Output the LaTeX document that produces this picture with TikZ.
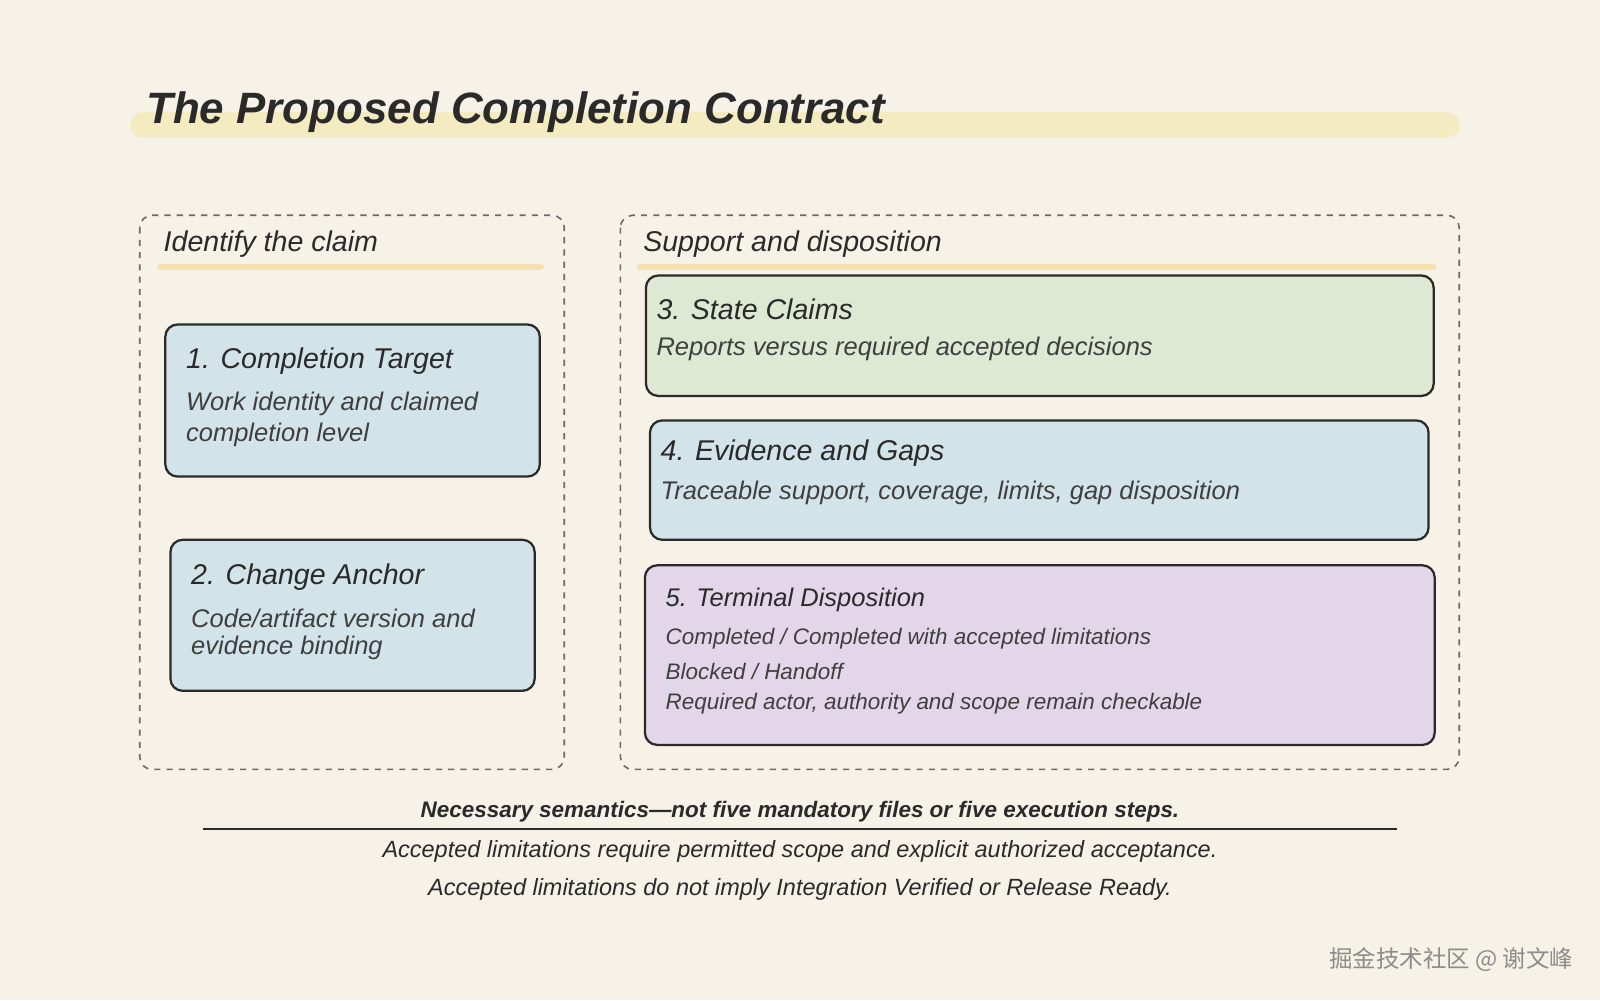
\documentclass[tikz,border=0pt]{standalone}
\usepackage{fontspec}
\setmainfont{Liberation Sans}
\newfontfamily\cjk{Noto Sans CJK SC}
\definecolor{bg}{HTML}{F6F2E8}
\definecolor{hl}{HTML}{F5EBC0}
\definecolor{bl}{HTML}{D3E3EA}
\definecolor{gr}{HTML}{DDE9D2}
\definecolor{pu}{HTML}{E3D6E8}
\definecolor{ink}{HTML}{2A2A2A}
\begin{document}
\begin{tikzpicture}[x=0.5pt,y=-0.5pt,
 grp/.style={draw=ink!70,dashed,line width=0.8pt,rounded corners=6pt},
 card/.style={draw=ink,line width=1.1pt,rounded corners=6pt},
 ttl/.style={anchor=west,inner sep=0pt,font=\itshape\fontsize{14}{16}\selectfont,text=ink},
 bod/.style={anchor=west,inner sep=0pt,font=\itshape\fontsize{12.5}{14}\selectfont,text=ink!90},
 sm/.style={anchor=west,inner sep=0pt,font=\itshape\fontsize{11}{13}\selectfont,text=ink!90},
 hd/.style={anchor=west,inner sep=0pt,font=\itshape\fontsize{14}{16}\selectfont,text=ink},
 ctr/.style={font=\itshape\fontsize{11.5}{13}\selectfont,text=ink}]
\fill[bg] (0,0) rectangle (1568,980);
\useasboundingbox (0,0) rectangle (1568,980);
\fill[hl] (140,110) rectangle (1418,135);
\fill[hl] (140,122.5) circle[radius=6.25pt];
\fill[hl] (1418,122.5) circle[radius=6.25pt];
\node[anchor=west,inner sep=0pt,font=\bfseries\itshape\fontsize{21.5}{24}\selectfont,text=ink] (title) at (143,110) {The Proposed Completion Contract};
\draw[grp] (137,211) rectangle (553,754) coordinate (gl);
\draw[grp] (608,211) rectangle (1430,754) coordinate (gr);
\node[hd] (h1) at (160,239) {Identify the claim};
\node[hd] (h2) at (630,239) {Support and disposition};
\draw[hl!90!orange,line width=3pt,line cap=round] (157,262) -- (530,262);
\draw[hl!90!orange,line width=3pt,line cap=round] (627,262) -- (1405,262);
\draw[card,fill=bl] (162,318) rectangle (529,467);
\node[ttl] (t1) at (182,354) {1. Completion Target};
\node[bod] at (182,396) {Work identity and claimed};
\node[bod] at (182,426) {completion level};
\draw[card,fill=bl] (167,529) rectangle (524,677);
\node[ttl] (t2) at (187,566) {2. Change Anchor};
\node[bod] at (187,606) {Code/artifact version and};
\node[bod] at (187,635) {evidence binding};
\draw[card,fill=gr] (633,270) rectangle (1405,388);
\node[ttl] (t3) at (643,303) {3. State Claims};
\node[bod] at (643,342) {Reports versus required accepted decisions};
\draw[card,fill=bl] (637,412) rectangle (1400,529);
\node[ttl] (t4) at (647,444) {4. Evidence and Gaps};
\node[bod] at (647,483) {Traceable support, coverage, limits, gap disposition};
\draw[card,fill=pu] (632,554) rectangle (1406,730);
\node[ttl,font=\itshape\fontsize{12.5}{14}\selectfont] (t5) at (652,588) {5. Terminal Disposition};
\node[sm] at (652,626) {Completed / Completed with accepted limitations};
\node[sm] at (652,658) {Blocked / Handoff};
\node[sm] at (652,690) {Required actor, authority and scope remain checkable};
\node[ctr,font=\bfseries\itshape\fontsize{11}{12}\selectfont] (n1) at (784,795) {Necessary semantics—not five mandatory files or five execution steps.};
\draw[ink,line width=0.9pt] (199,812) -- (1369,812);
\node[ctr] (n2) at (784,834) {Accepted limitations require permitted scope and explicit authorized acceptance.};
\node[ctr] (n3) at (784,872) {Accepted limitations do not imply Integration Verified or Release Ready.};
\node[anchor=east,inner sep=0pt,font=\cjk\fontsize{11.5}{13}\selectfont,text=black!45] (wm) at (1542,940) {掘金技术社区 @ 谢文峰};
\end{tikzpicture}
\end{document}
